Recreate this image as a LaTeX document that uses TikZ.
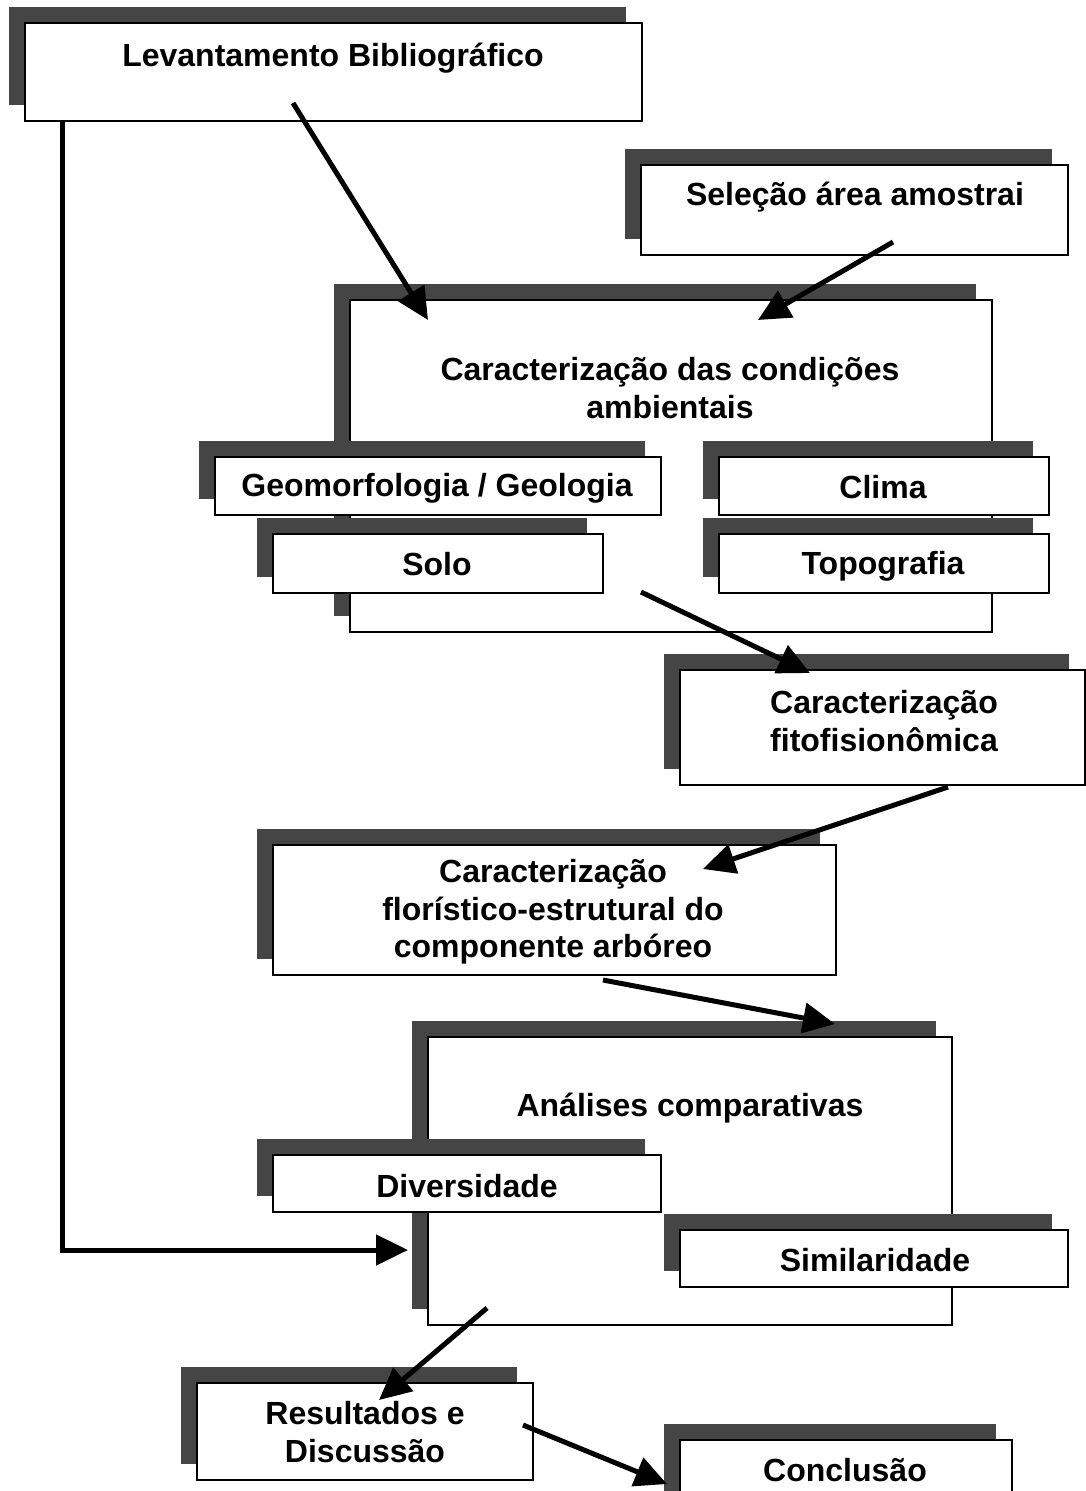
\documentclass[tikz,border=0pt]{standalone}
\usepackage{fontspec}
\setmainfont{Liberation Sans}
\usetikzlibrary{shadows,arrows.meta,calc}
\definecolor{shadowgray}{gray}{0.27}
\begin{document}
\begin{tikzpicture}[x=1pt,y=-1pt,
  bx/.style={draw=black, line width=2.2pt, fill=white, inner sep=0pt, outer sep=0pt,
    anchor=north west,
    general shadow={fill=shadowgray, draw=none, shadow xshift=-16pt, shadow yshift=16pt}},
  txt/.style={font=\bfseries\fontsize{32}{37.5}\selectfont, align=center, inner sep=0pt},
  arr/.style={line width=5pt, -{Triangle[length=32pt,width=30pt]}}]
\useasboundingbox (0,0) rectangle (1086,1491);
\fill[white] (0,0) rectangle (1086,1491);

% boxes
\node[bx, minimum width=617pt, minimum height=98pt] (lev) at (25,23) {};
\node[bx, minimum width=427pt, minimum height=90pt] (sel) at (641,165) {};
\node[bx, minimum width=642pt, minimum height=332pt] (cond) at (350,300) {};
\node[bx, minimum width=446pt, minimum height=58pt] (geo) at (215,457) {};
\node[bx, minimum width=330pt, minimum height=59pt] (solo) at (273,534) {};
\node[bx, minimum width=330pt, minimum height=58pt] (clima) at (719,457) {};
\node[bx, minimum width=330pt, minimum height=59pt] (topo) at (719,534) {};
\node[bx, minimum width=405pt, minimum height=115pt] (fito) at (680,670) {};
\node[bx, minimum width=563pt, minimum height=130pt] (flor) at (273,845) {};
\node[bx, minimum width=524pt, minimum height=288pt] (anal) at (428,1037) {};
\node[bx, minimum width=388pt, minimum height=57pt] (div) at (273,1155) {};
\node[bx, minimum width=388pt, minimum height=57pt] (sim) at (680,1230) {};
\node[bx, minimum width=336pt, minimum height=97pt] (res) at (197,1383) {};
\node[bx, minimum width=332pt, minimum height=80pt] (conc) at (680,1440) {};

% texts
\node[txt] (levt) at (333,58) {Levantamento Bibliográfico};
\node[txt] (selt) at (855,197) {Seleção área amostrai};
\node[txt] (condt) at (670,388) {Caracterização das condições\\ambientais};
\node[txt] (geot) at (437,488) {Geomorfologia / Geologia};
\node[txt] (solot) at (437,564) {Solo};
\node[txt] (climat) at (883,487) {Clima};
\node[txt] (topot) at (883,566) {Topografia};
\node[txt] (fitot) at (884,721) {Caracterização\\fitofisionômica};
\node[txt] (flort) at (553,912) {Caracterização\\florístico-estrutural do\\componente arbóreo};
\node[txt] (analt) at (690,1108) {Análises comparativas};
\node[txt] (divt) at (467,1186) {Diversidade};
\node[txt] (simt) at (875,1260) {Similaridade};
\node[txt] (rest) at (365,1432) {Resultados e\\Discussão};
\node[txt] (conct) at (845,1470) {Conclusão};

% connectors
\draw[arr] ($(lev.south west)+(37,0)$) |- ($(anal.south west)+(-20,-75)$);
\draw[arr] ($(lev.north west)+(268,80)$) -- ($(cond.north west)+(78,20)$);
\draw[arr] ($(sel.north west)+(252,77)$) -- ($(cond.north west)+(408,20)$);
\draw[arr] ($(solo.north west)+(368,58)$) -- ($(fito.north west)+(130,3)$);
\draw[arr] ($(fito.north west)+(268,117)$) -- ($(flor.north west)+(430,24)$);
\draw[arr] ($(flor.north west)+(330,135)$) -- ($(anal.north west)+(407,-13)$);
\draw[arr] ($(anal.north west)+(59,271)$) -- ($(res.north west)+(182,17)$);
\draw[arr] ($(res.north west)+(326,42)$) -- ($(conc.north west)+(-13,44)$);
\end{tikzpicture}
\end{document}
